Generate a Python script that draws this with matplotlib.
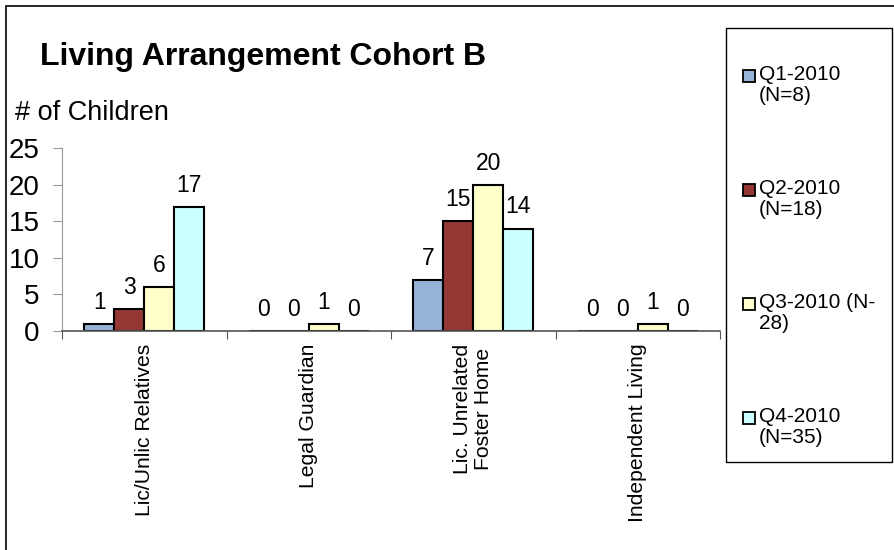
import matplotlib.pyplot as plt
from matplotlib.patches import Rectangle
import numpy as np

plt.rcParams['font.family'] = ['Liberation Sans', 'DejaVu Sans']

categories = ['Lic/Unlic Relatives', 'Legal Guardian', 'Lic. Unrelated\nFoster Home', 'Independent Living']
series = ['Q1-2010\n(N=8)', 'Q2-2010\n(N=18)', 'Q3-2010 (N-\n28)', 'Q4-2010\n(N=35)']
q1 = [1, 0, 7, 0]
q2 = [3, 0, 15, 0]
q3 = [6, 1, 20, 1]
q4 = [17, 0, 14, 0]
colors = ['#95B3D7', '#953735', '#FFFFCC', '#CCFFFF']

W, H = 894, 550
fig = plt.figure(figsize=(W/100, H/100), dpi=100)
ax = fig.add_axes([62/W, 1-331/H, (720-62)/W, (331-148)/H])

x = np.arange(len(categories))
w = 0.182
for i, vals in enumerate([q1, q2, q3, q4]):
    pos = x + (i - 1.5) * w
    ax.bar(pos, vals, w, color=colors[i], edgecolor='black', linewidth=1.5, label=series[i])
    for px, v in zip(pos, vals):
        ax.annotate(str(v), (px, v), xytext=(0, 15.5), textcoords='offset points',
                    ha='center', va='center', fontsize=16.5)

ax.set_xlim(-0.5, 3.5)
ax.set_ylim(0, 25)
ax.set_yticks([0, 5, 10, 15, 20, 25])
ax.tick_params(axis='y', labelsize=20, length=6.5, color='#999999', pad=9.5)
ax.set_xticks(np.arange(-0.5, 4.0, 1.0), minor=False)
ax.set_xticklabels([])
ax.tick_params(axis='x', length=6, color='#555555')
ax.set_xticks(x, minor=True)
ax.set_xticklabels(categories, minor=True, rotation=90, fontsize=15.2, ha='center', va='top',
                   linespacing=1.1)
ax.tick_params(axis='x', which='minor', length=0, pad=9)
for s in ['top', 'right']:
    ax.spines[s].set_visible(False)
ax.spines['left'].set_color('#999999')
ax.spines['bottom'].set_color('#555555')
ax.spines['bottom'].set_linewidth(1.2)

fig.text(40/W, 1-57/H, 'Living Arrangement Cohort B', fontsize=23, fontweight='bold', va='center')
fig.text(15/W, 1-113/H, '# of Children', fontsize=19.5, va='center')

# legend box drawn by hand: one marker on the first line of each two-line entry
fig.patches.append(Rectangle((726/W, 1-462/H), 166/W, 434/H, transform=fig.transFigure,
                             fill=False, edgecolor='black', linewidth=1.0))
for i, lab in enumerate(series):
    yc = 76 + i * 114
    fig.patches.append(Rectangle((743/W, 1-(yc+6)/H), 12/W, 12/H, transform=fig.transFigure,
                                 facecolor=colors[i], edgecolor='black', linewidth=1.3))
    fig.text(759/W, 1-(yc-11)/H, lab, fontsize=15, va='top', ha='left', linespacing=1.15)

fig.patches.append(Rectangle((6/W, -0.01), 1, 1-6/H+0.01, transform=fig.transFigure,
                             fill=False, edgecolor='black', linewidth=1.2))

plt.savefig('out.png', dpi=100)
